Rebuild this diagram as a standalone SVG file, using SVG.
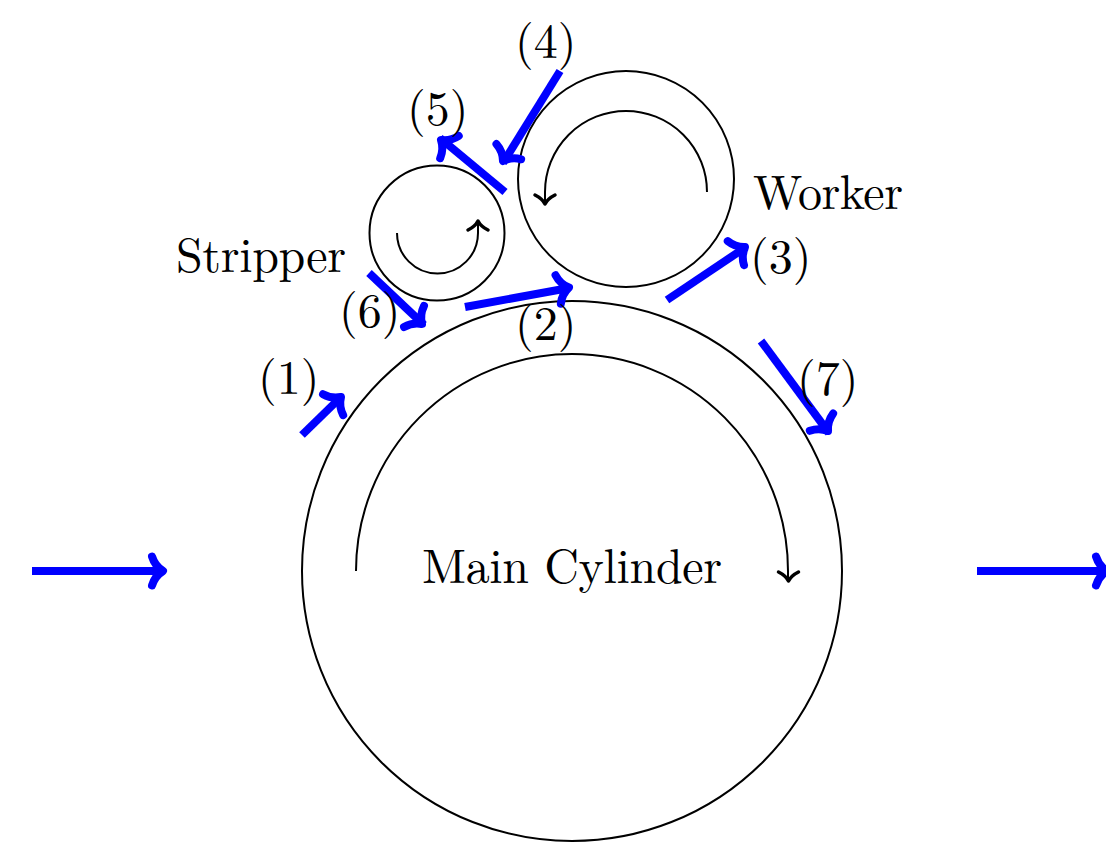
<svg xmlns="http://www.w3.org/2000/svg" width="1106" height="846" viewBox="0 0 1106 846">
<defs>
<path id="bh" d="M-11 -14.500C-9 -8 -4 -2.500 0 0C-4 2.500 -9 8 -11 14.500" fill="none" stroke="#00f" stroke-width="8" stroke-linecap="round" stroke-linejoin="round"/>
<path id="kh" d="M-9 -10C-6.500 -5 -3 -1.500 0 0C-3 1.500 -6.500 5 -9 10" fill="none" stroke="#000" stroke-width="3.500" stroke-linecap="round" stroke-linejoin="round"/>
</defs>
<style>
.c{fill:#fff;stroke:#000;stroke-width:2}
.a{fill:none;stroke:#000;stroke-width:2}
.b{fill:none;stroke:#00f;stroke-width:8}
text{font-family:"Latin Modern Roman","Liberation Serif",serif;font-size:48px;fill:#000}
</style>
<g id="main"><circle class="c" cx="572" cy="571" r="270"/><text x="422" y="583" textLength="300">Main Cylinder</text></g>
<g id="worker"><circle class="c" cx="626" cy="179" r="108"/><text x="753" y="209" textLength="150">Worker</text></g>
<g id="stripper"><circle class="c" cx="437" cy="233" r="67.500"/><text x="176" y="272" textLength="170">Stripper</text></g>
<g id="connectors">
<path class="a" d="M356 571A216 217 0 0 1 788 571V580"/><use href="#kh" transform="translate(788.500 581) rotate(90)"/>
<path class="a" d="M707 192A81 81 0 0 0 545 192V203"/><use href="#kh" transform="translate(545 204) rotate(90)"/>
<path class="a" d="M397 233A40.500 40.500 0 0 0 478 233V222"/><use href="#kh" transform="translate(478 221) rotate(-90)"/>
<path class="b" d="M32 571H162"/><use href="#bh" transform="translate(163 571)"/>
<path class="b" d="M977 571H1106"/><use href="#bh" transform="translate(1107 571)"/>
<path class="b" d="M302 435L341 397"/><use href="#bh" transform="translate(341 397) rotate(-44)"/>
<path class="b" d="M465 307L569 288"/><use href="#bh" transform="translate(569 287.500) rotate(-10.500)"/>
<path class="b" d="M667 300L746 247"/><use href="#bh" transform="translate(745 247) rotate(-34)"/>
<path class="b" d="M560 71L503 163"/><use href="#bh" transform="translate(503 161) rotate(121.800)"/>
<path class="b" d="M505 192L440 138"/><use href="#bh" transform="translate(441 140) rotate(219.700)"/>
<path class="b" d="M369 273L424 325"/><use href="#bh" transform="translate(422 324) rotate(43.400)"/>
<path class="b" d="M761 341L829 433"/><use href="#bh" transform="translate(828 431) rotate(53.500)"/>
</g>
<g id="labels">
<text x="258" y="394">(1)</text><text x="515" y="340">(2)</text><text x="750" y="273">(3)</text><text x="515" y="58">(4)</text><text x="407" y="125">(5)</text><text x="339" y="327">(6)</text><text x="797" y="395">(7)</text>
</g>
</svg>
